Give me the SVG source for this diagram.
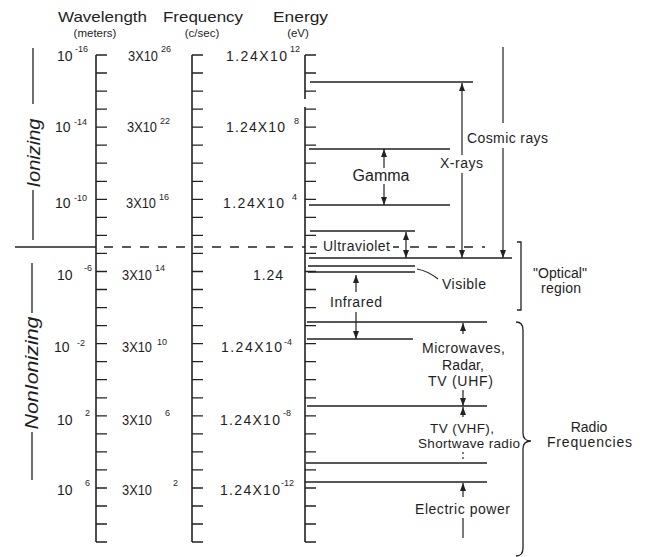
<svg xmlns="http://www.w3.org/2000/svg" width="646" height="557" viewBox="0 0 646 557">
<style>
text{font-family:"Liberation Sans",Arial,sans-serif;fill:#1e1e1e}
.h{font-size:15px}
.u{font-size:11.5px}
.v{font-size:14px}
.s{font-size:9px}
.l{font-size:14px}
.side{font-size:18px;font-style:italic}
.ln{stroke:#222;stroke-width:1.3;fill:none}
.ax{stroke:#222;stroke-width:1.6;fill:none}
.tk{stroke:#222;stroke-width:1.3}
.da{stroke:#222;stroke-width:1.3;stroke-dasharray:9 9;fill:none}
.ar{stroke:#222;stroke-width:1.2;fill:none}
</style>
<defs>
<marker id="ah" markerUnits="userSpaceOnUse" markerWidth="8" markerHeight="6" refX="8" refY="3" orient="auto-start-reverse"><path d="M0,0 L8,3 L0,6 z" fill="#222"/></marker>
<path id="ticks" d="M0,55h11M0,73h11M0,91.1h11M0,109.1h11M0,127.2h11M0,145.2h11M0,163.2h11M0,181.3h11M0,199.3h11M0,217.4h11M0,235.4h11M0,253.4h11M0,271.5h11M0,289.5h11M0,307.6h11M0,325.6h11M0,343.6h11M0,361.7h11M0,379.7h11M0,397.8h11M0,415.8h11M0,433.8h11M0,451.9h11M0,469.9h11M0,488h11M0,506h11M0,524h11M0,542h11"/>
</defs>

<g id="header">
<text class="h" x="58" y="22" textLength="89" lengthAdjust="spacingAndGlyphs">Wavelength</text>
<text class="u" x="95" y="37" text-anchor="middle">(meters)</text>
<text class="h" x="163" y="22" textLength="80" lengthAdjust="spacingAndGlyphs">Frequency</text>
<text class="u" x="202" y="37" text-anchor="middle">(c/sec)</text>
<text class="h" x="273" y="22" textLength="55" lengthAdjust="spacingAndGlyphs">Energy</text>
<text class="u" x="298" y="37" text-anchor="middle">(eV)</text>
</g>

<g id="wavelength-axis">
<path class="ax" d="M96,55V542"/>
<use href="#ticks" x="96" class="tk" stroke="#222" stroke-width="1.3"/>
<text class="v" x="57" y="61">10</text><text class="s" x="75" y="52">-16</text>
<text class="v" x="55" y="132">10</text><text class="s" x="74" y="125">-14</text>
<text class="v" x="55" y="208">10</text><text class="s" x="74" y="201">-10</text>
<text class="v" x="57" y="280">10</text><text class="s" x="84" y="271">-6</text>
<text class="v" x="54" y="352">10</text><text class="s" x="77" y="346">-2</text>
<text class="v" x="57" y="425">10</text><text class="s" x="85" y="416">2</text>
<text class="v" x="57" y="495">10</text><text class="s" x="85" y="486">6</text>
</g>

<g id="frequency-axis">
<path class="ax" d="M192,55V542"/>
<use href="#ticks" x="192" class="tk" stroke="#222" stroke-width="1.3"/>
<text class="v" x="128" y="61" textLength="30" lengthAdjust="spacingAndGlyphs">3X10</text><text class="s" x="161" y="52">26</text>
<text class="v" x="127" y="132" textLength="30" lengthAdjust="spacingAndGlyphs">3X10</text><text class="s" x="160" y="124">22</text>
<text class="v" x="126" y="208" textLength="30" lengthAdjust="spacingAndGlyphs">3X10</text><text class="s" x="159" y="200">16</text>
<text class="v" x="122" y="280" textLength="30" lengthAdjust="spacingAndGlyphs">3X10</text><text class="s" x="155" y="271">14</text>
<text class="v" x="122" y="352" textLength="30" lengthAdjust="spacingAndGlyphs">3X10</text><text class="s" x="157" y="345">10</text>
<text class="v" x="122" y="425" textLength="30" lengthAdjust="spacingAndGlyphs">3X10</text><text class="s" x="165" y="416">6</text>
<text class="v" x="122" y="495" textLength="30" lengthAdjust="spacingAndGlyphs">3X10</text><text class="s" x="173" y="486">2</text>
</g>

<g id="energy-axis">
<path class="ax" d="M305,55V99M305,107V542"/>
<use href="#ticks" x="305" class="tk" stroke="#222" stroke-width="1.3"/>
<text class="v" x="226" y="61" textLength="61" lengthAdjust="spacing">1.24X10</text><text class="s" x="290" y="52">12</text>
<text class="v" x="226" y="132" textLength="59" lengthAdjust="spacing">1.24X10</text><text class="s" x="294" y="124">8</text>
<text class="v" x="223" y="208" textLength="61" lengthAdjust="spacing">1.24X10</text><text class="s" x="292" y="200">4</text>
<text class="v" x="253" y="280" textLength="30" lengthAdjust="spacing">1.24</text>
<text class="v" x="221" y="352" textLength="61" lengthAdjust="spacing">1.24X10</text><text class="s" x="284" y="345">-4</text>
<text class="v" x="220" y="425" textLength="60" lengthAdjust="spacing">1.24X10</text><text class="s" x="283" y="416">-8</text>
<text class="v" x="220" y="495" textLength="60" lengthAdjust="spacing">1.24X10</text><text class="s" x="281" y="486">-12</text>
</g>

<g id="ionizing">
<path class="ln" d="M33,48V104M33,190V240"/>
<text class="side" transform="translate(40,153) rotate(-90)" text-anchor="middle" textLength="69" lengthAdjust="spacingAndGlyphs">Ionizing</text>
</g>
<g id="nonionizing">
<path class="ln" d="M32,263V313M32,432V480"/>
<text class="side" transform="translate(38,373) rotate(-90)" text-anchor="middle" textLength="113" lengthAdjust="spacingAndGlyphs">NonIonizing</text>
</g>

<g id="divider">
<path class="ln" d="M15,247H96"/>
<path class="da" d="M104,247H305"/>
<path class="ln" d="M310,247H317M393,247H399"/>
<path class="da" d="M410,247H485"/>
</g>

<g id="band-lines">
<path class="ln" d="M310,82H473M309,149H450M309,205H450M310,231H415M309,258H512M308,266H415M308,272H415M307,322H487M307,339H413M307,406H487M306,463H487M305,482H487"/>
</g>

<g id="connectors">
<path class="ar" d="M384,168V149" marker-end="url(#ah)"/>
<path class="ar" d="M384,184V205" marker-end="url(#ah)"/>
<path class="ar" d="M462,155V83" marker-end="url(#ah)"/>
<path class="ar" d="M462,173V258" marker-end="url(#ah)"/>
<path class="ar" d="M503,47V123"/>
<path class="ar" d="M503,148V258" marker-end="url(#ah)"/>
<path class="ar" d="M406,232V258" marker-start="url(#ah)" marker-end="url(#ah)"/>
<path class="ar" d="M356,292V275" marker-end="url(#ah)"/>
<path class="ar" d="M356,312V339" marker-end="url(#ah)"/>
<path class="ar" d="M463,334V323" marker-end="url(#ah)"/>
<path class="ar" d="M463,390V406" marker-end="url(#ah)"/>
<path class="ar" d="M463,417V407" marker-end="url(#ah)"/>
<path class="ar" d="M463,452V461" stroke-dasharray="2 3"/>
<path class="ar" d="M463,497V483" marker-end="url(#ah)"/>
<path class="ar" d="M463,518V538"/>
<path class="ar" d="M417,269Q428,271 438,279"/>
</g>

<g id="labels">
<text class="l" x="467" y="143" textLength="81" lengthAdjust="spacing">Cosmic rays</text>
<text class="l" x="440" y="168" textLength="43" lengthAdjust="spacing">X-rays</text>
<text class="l" x="381" y="181" text-anchor="middle" style="font-size:16px">Gamma</text>
<text class="l" x="323" y="251" textLength="67" lengthAdjust="spacing">Ultraviolet</text>
<text class="l" x="442" y="289" textLength="44" lengthAdjust="spacing">Visible</text>
<text class="l" x="330" y="307" textLength="52" lengthAdjust="spacing">Infrared</text>
<text class="l" x="422" y="353" textLength="83" lengthAdjust="spacing">Microwaves,</text>
<text class="l" x="442" y="370" textLength="42" lengthAdjust="spacing">Radar,</text>
<text class="l" x="428" y="386" textLength="65" lengthAdjust="spacing">TV (UHF)</text>
<text class="l" x="430" y="433" textLength="64" lengthAdjust="spacing" style="font-size:13.5px">TV (VHF),</text>
<text class="l" x="418" y="448" textLength="102" lengthAdjust="spacing" style="font-size:13.5px">Shortwave radio</text>
<text class="l" x="415" y="514" textLength="95" lengthAdjust="spacing">Electric power</text>
</g>

<g id="optical-region">
<path class="ln" d="M517,242H521V310H517" stroke-width="1.6"/>
<text class="l" x="533" y="278" textLength="54" lengthAdjust="spacing">"Optical"</text>
<text class="l" x="541" y="293" textLength="40" lengthAdjust="spacing">region</text>
</g>

<g id="radio-frequencies">
<path class="ln" d="M516,322Q523,322 523,330V433Q523,441 531,441Q523,441 523,449V548Q523,556 516,556" stroke-width="2.4"/>
<text class="l" x="589" y="432" text-anchor="middle">Radio</text>
<text class="l" x="547" y="447" textLength="85" lengthAdjust="spacing">Frequencies</text>
</g>
</svg>
